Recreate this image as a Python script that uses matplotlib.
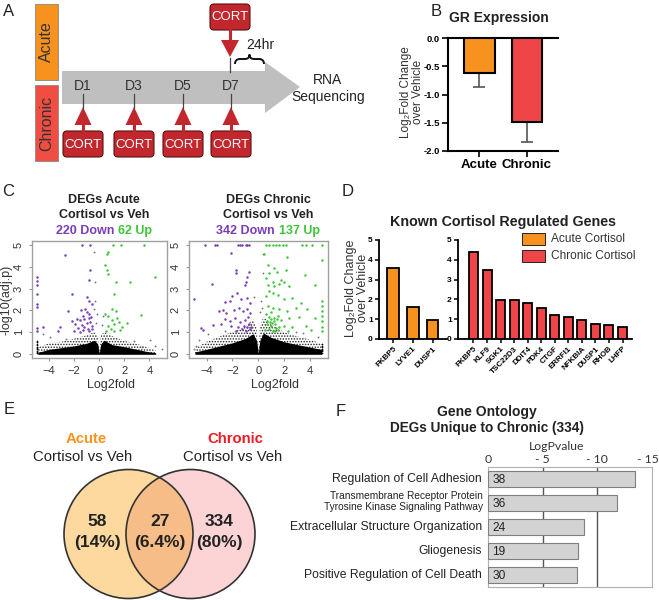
import matplotlib
matplotlib.use("Agg")
import matplotlib.pyplot as plt
from matplotlib.patches import Rectangle, FancyBboxPatch, Polygon, Circle, PathPatch
from matplotlib.path import Path
from matplotlib.offsetbox import TextArea, HPacker, AnnotationBbox

plt.rcParams['font.family'] = ['Liberation Sans', 'DejaVu Sans']
plt.rcParams['hatch.linewidth'] = 0.7

W, H = 659, 600

# ---------------- datos ----------------
# A: esquema de tratamiento
chronic_days = ["D1", "D3", "D5", "D7"]

# B: expresion de GR
gr_groups = ["Acute", "Chronic"]
gr_values = [-0.62, -1.48]
gr_err = [0.24, 0.36]

# C: volcano plots (puntos leidos aprox. de la figura)
acute_title = ["DEGs Acute", "Cortisol vs Veh"]
chronic_title = ["DEGs Chronic", "Cortisol vs Veh"]
acute_n = [220, 62]
chronic_n = [342, 137]

acute_down = [(-1.36, 5.0), (-0.74, 5.0), (-2.7, 4.54), (-5.0, 3.54), (-5.0, 3.35), (-5.0, 3.15),
              (-5.0, 2.76), (-5.0, 2.27), (-5.0, 2.17), (-0.74, 3.88), (-0.84, 3.41), (-2.15, 2.76),
              (-0.97, 2.61), (-0.79, 2.45), (-0.58, 2.3), (-2.5, 1.98), (-1.44, 2.02), (-1.1, 2.05),
              (-1.0, 1.91), (-1.31, 1.75), (-0.79, 1.83), (-1.78, 1.6), (-1.57, 1.55), (-1.18, 1.6),
              (-0.84, 1.65), (-0.66, 1.71), (-2.15, 1.52), (-1.97, 1.37), (-1.36, 1.34), (-1.0, 1.4),
              (-0.74, 1.44), (-0.58, 1.29), (-1.68, 1.18), (-1.26, 1.09), (-0.92, 1.13), (-0.79, 1.06),
              (-3.15, 1.21), (-3.28, 1.06), (-4.51, 1.24), (-5.0, 1.06), (-4.95, 1.18), (-1.5, 1.0),
              (-2.0, 1.05), (-1.2, 1.25), (-0.6, 1.15)]
acute_up = [(1.13, 5.0), (1.71, 5.0), (3.6, 5.0), (0.73, 4.7), (0.6, 4.62), (0.47, 4.11), (0.58, 3.88),
            (0.73, 3.69), (4.46, 3.54), (1.31, 3.3), (2.44, 3.3), (1.18, 2.76), (1.05, 2.06), (3.36, 1.8),
            (1.36, 1.99), (0.47, 1.83), (0.66, 1.75), (1.05, 1.55), (1.39, 1.65), (1.18, 1.37),
            (1.58, 1.44), (0.73, 1.29), (0.92, 1.13), (0.52, 1.06), (2.23, 1.4), (1.84, 1.21),
            (1.18, 1.06), (1.63, 1.09)]
acute_grey = [(-0.45, 4.7), (-0.34, 3.3), (-0.32, 2.45), (-0.39, 2.06), (-0.21, 1.83), (0.26, 1.75),
              (4.07, 0.62), (4.99, 0.2), (4.41, 0.36), (2.76, 0.59), (3.41, 0.31), (-2.62, 0.67),
              (-3.94, 0.75), (-4.51, 0.9), (0.2, 1.3), (-0.25, 1.4)]
acute_cap_y = [0.03, 0.09, 0.14, 0.21, 0.27, 0.33, 0.4, 0.46, 0.52, 0.6]
acute_cloud_x = [-4.9, -4.5, -4.0, -3.0, -2.0, -1.0, -0.4, -0.12, 0.0, 0.12, 0.4, 1.0, 2.0, 3.0, 3.8, 4.5]
acute_core = [0.06, 0.12, 0.2, 0.28, 0.36, 0.48, 0.62, 0.45, 0.02, 0.45, 0.62, 0.42, 0.32, 0.2, 0.1, 0.04]
acute_halo = [0.3, 0.38, 0.48, 0.55, 0.7, 0.85, 1.0, 0.85, 0.02, 0.85, 1.0, 0.82, 0.6, 0.45, 0.3, 0.15]

chronic_down = [(-4.12, 5.0), (-3.36, 5.0), (-3.18, 5.0), (-1.57, 5.0), (-1.44, 5.0), (-1.24, 5.0),
                (-0.98, 5.0), (-0.88, 5.0), (-0.73, 5.0), (-2.08, 4.66), (-4.94, 2.54), (-3.61, 3.21),
                (-1.75, 3.86), (-1.7, 3.71), (-0.73, 3.76), (-0.88, 3.56), (-0.98, 3.33), (-1.06, 3.15),
                (-2.0, 2.65), (-1.64, 2.8), (-2.21, 2.42), (-2.59, 2.39), (-1.31, 2.5), (-0.88, 2.58),
                (-0.67, 2.35), (-3.02, 1.97), (-2.72, 2.0), (-2.46, 1.89), (-1.9, 2.0), (-1.49, 2.09),
                (-1.19, 1.97), (-0.88, 2.04), (-0.62, 1.89), (-2.59, 1.59), (-2.21, 1.51), (-1.82, 1.64),
                (-1.44, 1.44), (-1.06, 1.54), (-0.8, 1.67), (-0.73, 1.36), (-1.57, 1.21), (-1.24, 1.14),
                (-0.93, 1.06), (-0.67, 1.14), (-2.08, 1.29), (-1.75, 1.06), (-4.45, 1.18), (-4.25, 1.09),
                (-3.48, 1.33), (-2.92, 1.36), (-1.13, 1.29), (-0.88, 1.21), (-0.55, 1.21)]
chronic_up = [(0.6, 5.0), (0.86, 5.0), (1.11, 5.0), (1.37, 5.0), (1.62, 5.0), (1.88, 5.0), (2.14, 5.0),
              (3.41, 5.0), (3.67, 5.0), (4.18, 5.0), (4.95, 5.0), (0.47, 4.58), (2.26, 4.47), (4.95, 4.32),
              (0.73, 4.09), (1.24, 3.94), (1.42, 3.79), (0.86, 3.71), (2.14, 3.86), (3.62, 3.64),
              (0.6, 3.48), (1.16, 3.33), (1.75, 3.41), (2.01, 3.33), (0.73, 3.18), (1.24, 3.11),
              (1.62, 3.21), (2.39, 3.11), (4.43, 3.18), (0.86, 2.88), (1.11, 2.8), (0.6, 2.65),
              (1.5, 2.73), (2.65, 2.58), (2.01, 2.5), (3.28, 2.35), (4.95, 2.42), (4.95, 2.2),
              (0.73, 2.2), (1.11, 2.09), (1.62, 2.04), (2.26, 1.97), (2.9, 2.09), (3.8, 2.04),
              (4.95, 1.97), (4.95, 1.74), (0.6, 1.82), (0.86, 1.7), (1.24, 1.64), (1.5, 1.74),
              (1.75, 1.54), (2.39, 1.64), (3.16, 1.67), (4.43, 1.64), (4.95, 1.51), (0.65, 1.36),
              (0.99, 1.29), (1.32, 1.36), (1.62, 1.24), (2.01, 1.29), (2.65, 1.21), (3.67, 1.29),
              (4.95, 1.21), (0.55, 1.09), (1.11, 1.06), (1.5, 1.09), (2.34, 1.06), (4.05, 1.09),
              (4.95, 1.06), (0.7, 1.5), (0.9, 1.45), (1.0, 1.6), (1.2, 1.5), (1.4, 1.2), (0.8, 1.15),
              (1.05, 1.4), (1.3, 1.05), (0.95, 1.9), (1.45, 1.6)]
chronic_grey = [(0.35, 4.62), (0.35, 3.71), (0.22, 2.42), (0.28, 2.1), (-0.3, 2.6), (0.15, 1.9),
                (-4.94, 0.23), (-4.6, 0.65), (4.6, 0.75), (3.5, 0.95), (-3.9, 0.9), (-2.6, 1.05),
                (2.9, 1.0), (-4.8, 0.35)]
chronic_cap_y = [0.03, 0.1, 0.16, 0.22, 0.3, 0.37, 0.45]
chronic_cloud_x = [-4.9, -4.0, -3.0, -2.0, -1.0, -0.4, -0.12, 0.0, 0.12, 0.4, 1.0, 2.0, 3.0, 4.0, 4.9]
chronic_core = [0.08, 0.2, 0.35, 0.5, 0.7, 0.92, 0.6, 0.02, 0.6, 0.95, 0.75, 0.55, 0.42, 0.3, 0.2]
chronic_halo = [0.25, 0.55, 0.8, 1.0, 1.25, 1.6, 1.2, 0.02, 1.2, 1.7, 1.35, 1.0, 0.8, 0.65, 0.45]

# D: genes regulados por cortisol
acute_genes = ["FKBP5", "LYVE1", "DUSP1"]
acute_fc = [3.57, 1.6, 0.98]
chronic_genes = ["FKBP5", "KLF9", "SGK1", "TSC22D3", "DDIT4", "PDK4", "CTGF", "ERRFI1",
                 "NFKBIA", "DUSP1", "RHOB", "LHFP"]
chronic_fc = [4.4, 3.48, 1.96, 1.96, 1.8, 1.57, 1.21, 1.12, 0.96, 0.78, 0.7, 0.62]

# E: diagrama de Venn
venn_names = ["Acute", "Chronic"]
venn_counts = [58, 27, 334]

# F: ontologia
go_terms = ["Regulation of Cell Adhesion",
            "Transmembrane Receptor Protein\nTyrosine Kinase Signaling Pathway",
            "Extracellular Structure Organization", "Gliogenesis",
            "Positive Regulation of Cell Death"]
go_logp = [13.4, 11.8, 8.8, 8.25, 8.15]
go_counts = [38, 36, 24, 19, 30]
go_ticks = [0, 5, 10, 15]

# colores
ORANGE = "#F7921E"
RED = "#EF4448"
CORT_RED = "#C1272D"
PURPLE = "#7A3DB8"
GREEN = "#3FC43A"

fig = plt.figure(figsize=(W / 100, H / 100), dpi=100)


def px_axes(x0, y0, x1, y1, **kw):
    """Crea ejes a partir de coordenadas en pixeles (origen arriba a la izquierda)."""
    return fig.add_axes([x0 / W, 1 - y1 / H, (x1 - x0) / W, (y1 - y0) / H], **kw)


# capa superior para esquema, textos y Venn
ov = fig.add_axes([0, 0, 1, 1], zorder=10)
ov.set_xlim(0, W)
ov.set_ylim(H, 0)
ov.axis("off")


def txt(x, y, s, **kw):
    kw.setdefault("ha", "center")
    kw.setdefault("va", "center")
    return ov.text(x, y, s, **kw)


# etiquetas de paneles
for lab, (x, y) in zip("ABCDEF", [(9, 11), (436, 11), (8, 191), (348, 191), (9, 410), (341, 412)]):
    txt(x, y, lab, fontsize=12, color="#222")

# ---------------- A ----------------
ov.add_patch(Rectangle((35, 4), 23, 76, fc=ORANGE, ec="#888", lw=0.6))
ov.add_patch(Rectangle((35, 85), 23, 76, fc="#F04D43", ec="#888", lw=0.6))
txt(46.5, 42, "Acute", rotation=90, fontsize=11.5, color="#333")
txt(46.5, 123, "Chronic", rotation=90, fontsize=11.5, color="#333")

ov.add_patch(Polygon([(62, 71), (265, 71), (265, 62), (300, 87), (265, 113), (265, 104), (62, 104)],
                     closed=True, fc="#BFBFBF", ec="none"))
cort_x = [83, 134, 183, 231]
for day, x in zip(chronic_days, cort_x):
    txt(x, 86, day, fontsize=10, color="#333")
    ov.plot([x, x], [94, 108], color="#444", lw=0.9)
    ov.plot([x, x], [123, 131], color=CORT_RED, lw=2.2)
    ov.add_patch(Polygon([(x, 107), (x - 8.5, 125), (x + 8.5, 125)], closed=True, fc=CORT_RED, ec="none"))
    ov.add_patch(FancyBboxPatch((x - 20, 131), 40, 26, boxstyle="round,pad=0,rounding_size=4",
                                fc=CORT_RED, ec="#5A1010", lw=0.8))
    txt(x, 144.5, "CORT", fontsize=9.5, color="white")

# acute: dosis en D7
ov.add_patch(FancyBboxPatch((210, 4), 40, 26, boxstyle="round,pad=0,rounding_size=4",
                            fc=CORT_RED, ec="#5A1010", lw=0.8))
txt(230, 17.5, "CORT", fontsize=9.5, color="white")
ov.plot([230, 230], [30, 41], color=CORT_RED, lw=2.2)
ov.add_patch(Polygon([(221, 40), (239, 40), (230, 57)], closed=True, fc=CORT_RED, ec="none"))
ov.plot([230, 230], [58, 72], color="#444", lw=0.9)

verts = [(235, 64), (235, 59), (240, 59), (245, 59), (249.5, 59), (249.5, 54.5), (249.5, 59), (254, 59),
         (259, 59), (264, 59), (264, 64)]
codes = [Path.MOVETO, Path.CURVE3, Path.CURVE3, Path.LINETO, Path.CURVE3, Path.CURVE3, Path.CURVE3,
         Path.CURVE3, Path.LINETO, Path.CURVE3, Path.CURVE3]
ov.add_patch(PathPatch(Path(verts, codes), fc="none", ec="#111", lw=1.4))
txt(260, 45, "24hr", fontsize=10, color="#222")
txt(328, 80, "RNA", fontsize=10, color="#222")
txt(328, 97, "Sequencing", fontsize=10, color="#222")

# ---------------- B ----------------
axb = px_axes(448, 38, 558, 151)
axb.bar([0, 1], gr_values, width=0.65, color=[ORANGE, RED], edgecolor="black", lw=1.5, zorder=3)
axb.errorbar([0, 1], gr_values, yerr=[gr_err, [0, 0]], fmt="none", ecolor="#555", elinewidth=1.2,
             capsize=4.5, capthick=1.2, zorder=2)
axb.set_xlim(-0.663, 1.653)
axb.set_ylim(-2, 0)
axb.set_yticks([-2, -1.5, -1, -0.5, 0])
axb.set_yticklabels([f"{v:.1f}" for v in [-2, -1.5, -1, -0.5, 0]], fontsize=6.8, fontweight="bold")
axb.set_xticks([0, 1])
axb.set_xticklabels(gr_groups, fontsize=9.5, fontweight="bold")
axb.spines["right"].set_visible(False)
for s in ["left", "bottom", "top"]:
    axb.spines[s].set_linewidth(1.5)
axb.tick_params(width=1.2, length=4, pad=2)
txt(499, 18, "GR Expression", fontsize=10, fontweight="bold", color="#222")
txt(412, 92, "Log\u2082Fold Change\nover Vehicle", rotation=90, fontsize=8.5, color="#333", linespacing=1.05)

# ---------------- C ----------------


def volcano(ax, cloud_x, core, halo, cap_x, cap_y, grey, down, up):
    ax.fill_between(cloud_x, 0, halo, facecolor="none", edgecolor="#222", hatch="......", lw=0)
    ax.fill_between(cloud_x, -0.03, core, color="black", lw=0)
    ax.scatter([cap_x] * len(cap_y), cap_y, s=1.5, color="black", lw=0)
    ax.scatter([p[0] for p in grey], [p[1] for p in grey], s=1.8, color="#777", lw=0)
    ax.scatter([p[0] for p in down], [p[1] for p in down], s=3.2, color=PURPLE, lw=0)
    ax.scatter([p[0] for p in up], [p[1] for p in up], s=3.2, color=GREEN, lw=0)
    ax.set_xlim(-5.4, 5.4)
    ax.set_ylim(-0.2, 5.2)
    ax.set_xticks([-4, -2, 0, 2, 4])
    ax.set_yticks(range(6))
    for s in ax.spines.values():
        s.set_color("#A0A0A0")
        s.set_linewidth(1.0)
    ax.tick_params(length=2.5, color="#999", labelsize=8, labelcolor="#333", pad=3)
    for lab in ax.get_yticklabels():
        lab.set_rotation(90)
        lab.set_va("center")


axc1 = px_axes(31.5, 241, 167, 358)
volcano(axc1, acute_cloud_x, acute_core, acute_halo, -5.0, acute_cap_y, acute_grey, acute_down, acute_up)
axc2 = px_axes(188.5, 241, 328, 358)
volcano(axc2, chronic_cloud_x, chronic_core, chronic_halo, 4.95, chronic_cap_y, chronic_grey,
        chronic_down, chronic_up)

for cx, title, n in [(104, acute_title, acute_n), (268, chronic_title, chronic_n)]:
    txt(cx, 200, title[0], fontsize=9, fontweight="bold", color="#222")
    txt(cx, 215, title[1], fontsize=9, fontweight="bold", color="#222")
    box = HPacker(children=[TextArea(f"{n[0]} Down", textprops=dict(color=PURPLE, fontsize=9, fontweight="bold")),
                            TextArea(f"{n[1]} Up", textprops=dict(color=GREEN, fontsize=9, fontweight="bold"))],
                  pad=0, sep=2.5, align="baseline")
    ov.add_artist(AnnotationBbox(box, (cx, 231), xycoords="data", frameon=False, box_alignment=(0.5, 0.5)))
    txt(cx + 7, 385, "Log2fold", fontsize=9, color="#333")
txt(7, 300, "-log10(adj.p)", rotation=90, fontsize=9, color="#333")

# ---------------- D ----------------
axd1 = px_axes(379, 240, 447, 339, facecolor="none")
axd1.bar(range(len(acute_genes)), acute_fc, width=0.6, color=ORANGE, edgecolor="black", lw=1.3)
axd1.set_xlim(-0.709, 2.73)
axd2 = px_axes(458, 240, 632, 339, facecolor="none")
axd2.bar(range(len(chronic_genes)), chronic_fc, width=0.66, color=RED, edgecolor="black", lw=1.3)
axd2.set_xlim(-1.144, 11.7)
for ax, genes in [(axd1, acute_genes), (axd2, chronic_genes)]:
    ax.set_ylim(0, 5)
    ax.set_yticks(range(6))
    ax.set_yticklabels([str(v) for v in range(6)], fontsize=6, fontweight="bold")
    ax.set_xticks(range(len(genes)))
    ax.set_xticklabels(genes, rotation=45, ha="right", rotation_mode="anchor", fontsize=5.8,
                       fontweight="bold")
    ax.spines["top"].set_visible(False)
    ax.spines["right"].set_visible(False)
    ax.spines["left"].set_linewidth(1.3)
    ax.spines["bottom"].set_linewidth(1.3)
    ax.tick_params(width=1.1, length=3, pad=1.5)
txt(503, 222, "Known Cortisol Regulated Genes", fontsize=10.3, fontweight="bold", color="#222")
txt(357, 288, "Log\u2082Fold Change\nover Vehicle", rotation=90, fontsize=9, color="#333", linespacing=1.05)
for y, col, lab in [(233, ORANGE, "Acute Cortisol"), (250, RED, "Chronic Cortisol")]:
    ov.add_patch(Rectangle((522, y), 23, 12, fc=col, ec="#222", lw=0.7))
    txt(551, y + 6, lab, ha="left", fontsize=8.6, color="#333")

# ---------------- E ----------------
c_left = (128.5, 534)
c_right = (190.5, 534)
r = 64.5
left_fill = Circle(c_left, r, fc="#FDD89F", ec="none")
right_fill = Circle(c_right, r, fc="#FCD4D6", ec="none")
ov.add_patch(left_fill)
ov.add_patch(right_fill)
inter = Circle(c_right, r, fc="#F7BD89", ec="none")
ov.add_patch(inter)
inter.set_clip_path(left_fill)
ov.add_patch(Circle(c_left, r, fc="none", ec="#333", lw=1.2))
ov.add_patch(Circle(c_right, r, fc="none", ec="#333", lw=1.2))

total = sum(venn_counts)
for x, c in zip([97, 160, 219], venn_counts):
    txt(x, 522, f"{c}", fontsize=12.5, fontweight="bold", color="#222")
    txt(x, 542, f"({c / total * 100:.2g}%)", fontsize=12.5, fontweight="bold", color="#222")
txt(86, 439, venn_names[0], fontsize=10.7, fontweight="bold", color="#F7941D")
txt(83, 457, "Cortisol vs Veh", fontsize=10.7, color="#222")
txt(235, 439, venn_names[1], fontsize=10.7, fontweight="bold", color="#EE1C25")
txt(233, 457, "Cortisol vs Veh", fontsize=10.7, color="#222")

# ---------------- F ----------------
axf = px_axes(488, 467, 652, 587)
ypos = list(range(len(go_terms)))
axf.barh(ypos, go_logp, height=0.68, color="#D3D3D3", edgecolor="#7F7F7F", lw=0.8, zorder=3)
for v in go_ticks[1:-1]:
    axf.axvline(v, color="#555", lw=1.0, zorder=1)
axf.set_xlim(0, 15)
axf.set_ylim(4.5, -0.5)
axf.set_xticks([])
axf.set_yticks([])
# etiquetas del eje superior escritas a mano para que "- 15" no se salga
for v in go_ticks:
    lab = "0" if v == 0 else f"- {v}"
    axf.text(v - (0.35 if v == 15 else 0), 1.02, lab, transform=axf.get_xaxis_transform(),
             ha="center", va="bottom", family=["Lato", "DejaVu Sans"], fontsize=8.8, color="#333")
for s in axf.spines.values():
    s.set_color("#B0B0B0")
    s.set_linewidth(0.8)
for y, term, n in zip(ypos, go_terms, go_counts):
    axf.text(0.4, y + 0.05, str(n), ha="left", va="center", fontsize=8.6, color="#222", zorder=4)
    if "\n" in term:
        axf.text(-0.45, y - 0.05, term, ha="right", va="center", fontsize=7.3, color="#222",
                 linespacing=1.1, multialignment="right")
    else:
        axf.text(-0.55, y, term, ha="right", va="center", fontsize=8.7, color="#222")
txt(557, 446, "LogPvalue", family=["Lato", "DejaVu Sans"], fontsize=8.8, color="#333")
txt(487, 412, "Gene Ontology", fontsize=10, fontweight="bold", color="#222")
txt(487, 428, "DEGs Unique to Chronic (334)", fontsize=9.8, fontweight="bold", color="#222")

fig.savefig("out.png", dpi=100)
